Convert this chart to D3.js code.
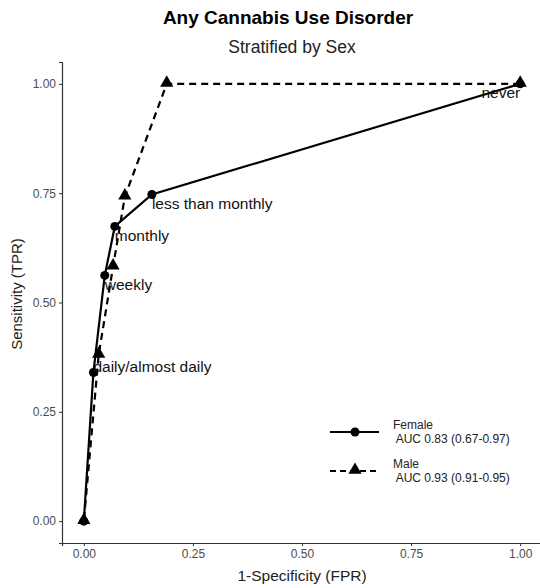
<!DOCTYPE html>
<html>
<head>
<meta charset="utf-8">
<script src="https://cdn.jsdelivr.net/npm/d3@7"></script>
<style>
  body { margin: 0; background: #fff; }
  text { font-family: "Liberation Sans", Arial, sans-serif; }
</style>
</head>
<body>
<div id="roc"></div>
<script>
// data
var levels = ["never", "less than monthly", "monthly", "weekly", "daily/almost daily", "zero"];
var femaleFPR = [1.00, 0.156, 0.071, 0.048, 0.022, 0.00];
var femaleTPR = [1.00, 0.747, 0.674, 0.562, 0.340, 0.00];
var maleFPR = [1.00, 0.190, 0.094, 0.067, 0.034, 0.00];
var maleTPR = [1.00, 1.000, 0.742, 0.582, 0.380, 0.00];
var ticks = [0, 0.25, 0.5, 0.75, 1];
var legendLabels = [["Female", " AUC 0.83 (0.67-0.97)"], ["Male", " AUC 0.93 (0.91-0.95)"]];

var W = 540, H = 588;
var margin = {top: 62, right: 0, bottom: 45, left: 62};

var svg = d3.select("#roc")
  .append("svg")
    .attr("width", W)
    .attr("height", H);

var x = d3.scaleLinear().domain([-0.05, 1.05]).range([margin.left, 542]);
var y = d3.scaleLinear().domain([-0.05, 1.05]).range([H - margin.bottom, margin.top]);

var female = femaleFPR.map(function(d, i) { return {x: d, y: femaleTPR[i], lab: levels[i]}; });
var male = maleFPR.map(function(d, i) { return {x: d, y: maleTPR[i]}; });

// axes
var xAxis = svg.append("g")
  .attr("transform", "translate(0," + (H - margin.bottom) + ")")
  .call(d3.axisBottom(x).tickValues(ticks).tickFormat(d3.format(".2f")).tickSize(3).tickPadding(3));
var yAxis = svg.append("g")
  .attr("transform", "translate(" + margin.left + ",0)")
  .call(d3.axisLeft(y).tickValues(ticks).tickFormat(d3.format(".2f")).tickSize(3).tickPadding(3));

[xAxis, yAxis].forEach(function(a) {
  a.select(".domain").attr("stroke", "#333").attr("stroke-width", 1.2);
  a.selectAll(".tick line").attr("stroke", "#333");
  a.selectAll(".tick text")
    .style("font-family", "Liberation Sans, Arial, sans-serif")
    .style("font-size", "12px")
    .attr("fill", "#4d4d4d");
});

// lines
var line = d3.line().x(function(d) { return x(d.x); }).y(function(d) { return y(d.y); });

svg.append("path")
  .datum(male)
  .attr("d", line)
  .attr("fill", "none")
  .attr("stroke", "black")
  .attr("stroke-width", 2.2)
  .attr("stroke-dasharray", "7,5");

svg.append("path")
  .datum(female)
  .attr("d", line)
  .attr("fill", "none")
  .attr("stroke", "black")
  .attr("stroke-width", 2.2);

var tri = d3.symbol().type(d3.symbolTriangle).size(75);

svg.selectAll(".male")
  .data(male)
  .enter()
  .append("path")
    .attr("d", tri)
    .attr("transform", function(d) { return "translate(" + x(d.x) + "," + (y(d.y) - 1) + ")"; })
    .attr("fill", "black");

svg.selectAll(".female")
  .data(female)
  .enter()
  .append("circle")
    .attr("cx", function(d) { return x(d.x); })
    .attr("cy", function(d) { return y(d.y); })
    .attr("r", 4.5)
    .attr("fill", "black");

// point labels, inward justified
svg.selectAll(".lab")
  .data(female.filter(function(d) { return d.lab !== "zero"; }))
  .enter()
  .append("text")
    .attr("x", function(d) { return x(d.x); })
    .attr("y", function(d) { return y(d.y); })
    .attr("dy", function(d) { return d.y > 0.5 ? "0.92em" : "-0.05em"; })
    .attr("text-anchor", function(d) { return d.x > 0.5 ? "end" : "start"; })
    .style("font-size", "15.5px")
    .attr("fill", "#111")
    .text(function(d) { return d.lab; });

// titles
svg.append("text")
  .attr("x", 288).attr("y", 24)
  .attr("text-anchor", "middle")
  .style("font-size", "19px")
  .style("font-weight", "bold")
  .text("Any Cannabis Use Disorder");

svg.append("text")
  .attr("x", 292).attr("y", 53)
  .attr("text-anchor", "middle")
  .style("font-size", "17.5px")
  .attr("fill", "#222")
  .text("Stratified by Sex");

svg.append("text")
  .attr("x", 302).attr("y", 581)
  .attr("text-anchor", "middle")
  .style("font-size", "15.5px")
  .attr("fill", "#222")
  .text("1-Specificity (FPR)");

svg.append("text")
  .attr("transform", "translate(22,294) rotate(-90)")
  .attr("text-anchor", "middle")
  .style("font-size", "15px")
  .attr("fill", "#222")
  .text("Sensitivity (TPR)");

// legend
var legend = svg.append("g").attr("transform", "translate(330,432)");

legendLabels.forEach(function(lab, i) {
  var g = legend.append("g").attr("transform", "translate(0," + (i * 39) + ")");
  g.append("line")
    .attr("x1", 0).attr("x2", 49)
    .attr("stroke", "black")
    .attr("stroke-width", 2.2)
    .attr("stroke-dasharray", i === 0 ? null : "6,4");
  if (i === 0) {
    g.append("circle").attr("cx", 25).attr("r", 4.5).attr("fill", "black");
  } else {
    g.append("path").attr("d", tri).attr("transform", "translate(25,-1)").attr("fill", "black");
  }
  var t = g.append("text")
    .attr("x", 63)
    .attr("y", -3)
    .style("font-size", "12px")
    .attr("fill", "#222")
    .attr("xml:space", "preserve");
  t.append("tspan").attr("x", 63).text(lab[0]);
  t.append("tspan").attr("x", 63).attr("dy", "1.15em").text(lab[1]);
});
</script>
</body>
</html>
